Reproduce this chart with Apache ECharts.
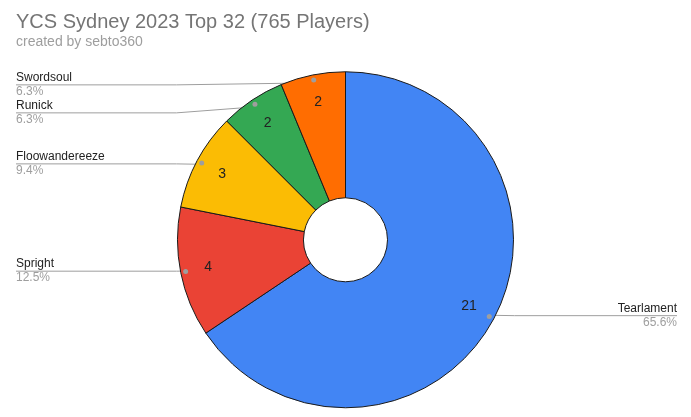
<!DOCTYPE html>
<html><head><meta charset="utf-8">
<script src="https://cdn.jsdelivr.net/npm/echarts@6/dist/echarts.min.js"></script>
<style>html,body{margin:0;padding:0;background:#fff}#c{width:691px;height:417px}</style>
</head><body><div id="c"></div>
<script>
const titleText = 'YCS Sydney 2023 Top 32 (765 Players)';
const subtitleText = 'created by sebto360';
const categories = ['Tearlament', 'Spright', 'Floowandereeze', 'Runick', 'Swordsoul'];
const counts = [21, 4, 3, 2, 2];
const colors = ['#4285f4', '#ea4335', '#fbbc04', '#34a853', '#ff6d01'];

const data = categories.map((n, i) => ({ name: n, value: counts[i] }));
const FONT = '"Liberation Sans", Arial, sans-serif';
const chart = echarts.init(document.getElementById('c'), null, { renderer: 'canvas' });
const center = ['50%', '57.5%'];
const base = { type: 'pie', center: center, startAngle: 90, clockwise: true, silent: true, animation: false, data: data };

const option = {
  animation: false,
  color: colors,
  title: {
    text: titleText,
    subtext: subtitleText,
    left: 11,
    top: 7,
    itemGap: 3,
    textStyle: { fontFamily: FONT, fontSize: 20, fontWeight: 'normal', color: '#757575' },
    subtextStyle: { fontFamily: FONT, fontSize: 14, color: '#9e9e9e' }
  },
  series: [
    Object.assign({}, base, {
      radius: [42, 168],
      itemStyle: { borderColor: '#1a1a1a', borderWidth: 1 },
      label: { show: false }, labelLine: { show: false }
    }),
    Object.assign({}, base, {
      radius: [106, 168],
      itemStyle: { color: 'transparent', borderWidth: 0 },
      label: { show: true, position: 'inside', formatter: '{c}', fontFamily: FONT, fontSize: 14, color: '#222' },
      labelLine: { show: false }
    }),
    Object.assign({}, base, {
      radius: [152, 168],
      itemStyle: { color: 'transparent', borderWidth: 0 },
      label: { show: true, position: 'inside', formatter: '{d|}',
        rich: { d: { width: 5, height: 5, borderRadius: 2.5, backgroundColor: '#9e9e9e' } } },
      labelLine: { show: false }
    }),
    Object.assign({}, base, {
      radius: [0, 160],
      itemStyle: { color: 'transparent', borderWidth: 0 },
      label: {
        show: true, position: 'outside',
        formatter: p => '{n|' + p.name + '}\n{p|' + p.percent.toFixed(1) + '%}',
        rich: {
          n: { fontFamily: FONT, fontSize: 12, color: '#222', lineHeight: 14 },
          p: { fontFamily: FONT, fontSize: 12, color: '#9e9e9e', lineHeight: 14 }
        }
      },
      labelLine: { show: true, length: 1, length2: 6, lineStyle: { color: '#9e9e9e', width: 1 } },
      labelLayout: function (params) {
        const pts = params.labelLinePoints;
        if (!pts) return {};
        const W = chart.getWidth();
        const cyPie = chart.getHeight() * 0.575;
        const r = params.labelRect;
        const p0 = pts[0];
        let cy = r.y + r.height / 2;
        // crowded labels near the top are spread downward, as in the original
        if (Math.abs(cy - p0[1]) > 0.5 && p0[1] < cyPie - 100) cy += 3;
        const isLeft = p0[0] < W / 2;
        const edge = isLeft ? 16 : W - 14;
        const bend = isLeft ? W / 2 - 169 : W / 2 + 169;
        return {
          x: edge, y: cy, align: isLeft ? 'left' : 'right', verticalAlign: 'middle',
          labelLinePoints: [p0, [bend, cy], [edge, cy]]
        };
      }
    })
  ]
};
chart.setOption(option);
</script>
</body></html>
